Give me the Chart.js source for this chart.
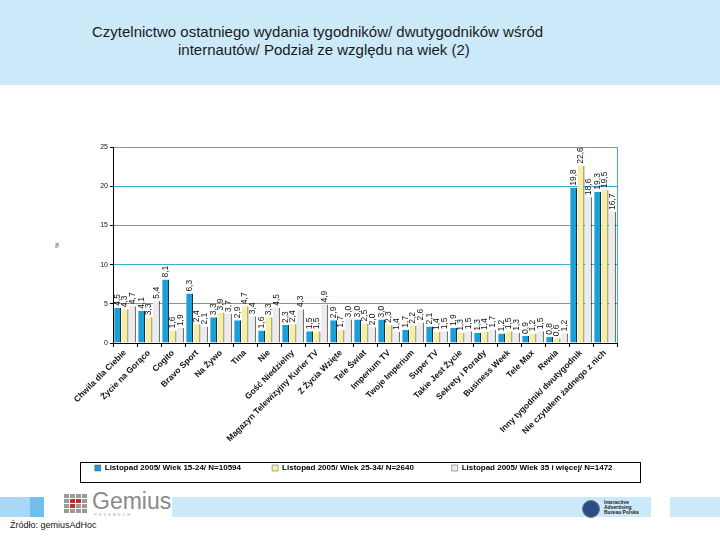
<!DOCTYPE html>
<html>
<head>
<meta charset="utf-8">
<script src="https://cdn.jsdelivr.net/npm/chart.js@4.4.1/dist/chart.umd.min.js"></script>
<style>
  html, body { margin:0; padding:0; background:#fff; }
  body { width:720px; height:540px; position:relative; overflow:hidden; font-family:"Liberation Sans", Arial, sans-serif; }
  #header { position:absolute; left:0; top:0; width:720px; height:85px; background:#cce9fa; }
  .t { position:absolute; font-size:15px; color:#1a1a1a; white-space:nowrap; }
  #chartWrap { position:absolute; left:0; top:0; width:720px; height:540px; }
  #footer1 { position:absolute; left:0; top:497px; width:30px; height:20px; background:#a9d8f6; }
  #footer2 { position:absolute; left:30px; top:497px; width:14px; height:20px; background:#72bfee; }
  #footer3 { position:absolute; left:172px; top:497px; width:479px; height:20px; background:#cce9fa; }
  #footer4 { position:absolute; left:670px; top:497px; width:50px; height:20px; background:#cce9fa; }
  #src { position:absolute; left:10px; top:520px; font-size:9px; color:#111; }
  #gem { position:absolute; left:64px; top:490px; width:110px; height:28px; }
  .sq { position:absolute; width:5px; height:4px; background:#9a9a9a; }
  #gemtxt { position:absolute; left:28px; top:-2px; font-size:23px; color:#8a8a8a; }
  #gemsub { position:absolute; left:30px; top:22px; font-size:4px; color:#aaa; letter-spacing:2px; }
  #iab { position:absolute; left:582px; top:498px; width:66px; height:20px; }
  #iabc { position:absolute; left:0; top:2px; width:16px; height:16px; border-radius:50%; background:#2b4d86; border:1px solid #777; }
  #iabt { position:absolute; left:22px; top:2px; font-size:5px; line-height:5px; color:#222; font-weight:bold; }
</style>
</head>
<body>
<div id="header"></div>
<div class="t" style="left:92px; top:23px;">Czytelnictwo ostatniego wydania tygodników/ dwutygodników wśród</div>
<div class="t" style="left:178px; top:41px;">internautów/ Podział ze względu na wiek (2)</div>
<div id="footer1"></div><div id="footer2"></div><div id="footer3"></div><div id="footer4"></div>
<div id="gem">
  <div class="sq" style="left:0;top:4px"></div><div class="sq" style="left:6px;top:4px"></div><div class="sq" style="left:12px;top:4px"></div><div class="sq" style="left:18px;top:4px"></div>
  <div class="sq" style="left:0;top:9px"></div><div class="sq" style="left:6px;top:9px;background:#c0302a"></div><div class="sq" style="left:12px;top:9px;background:#c0302a"></div><div class="sq" style="left:18px;top:9px"></div>
  <div class="sq" style="left:0;top:14px"></div><div class="sq" style="left:6px;top:14px;background:#c0302a"></div><div class="sq" style="left:12px;top:14px"></div><div class="sq" style="left:18px;top:14px"></div>
  <div class="sq" style="left:0;top:19px"></div><div class="sq" style="left:6px;top:19px"></div><div class="sq" style="left:12px;top:19px"></div><div class="sq" style="left:18px;top:19px"></div>
  <div id="gemtxt">Gemius</div>
  <div id="gemsub">RESEARCH</div>
</div>
<div id="iab"><div id="iabc"></div><div id="iabt">Interactive<br>Advertising<br>Bureau Polska</div></div>
<div id="src">Źródło: gemiusAdHoc</div>
<div id="chartWrap"><canvas id="c" width="720" height="540"></canvas></div>
<script>
const categories = [
  "Chwila dla Ciebie", "Życie na Gorąco", "Cogito", "Bravo Sport", "Na Żywo", "Tina", "Nie",
  "Gość Niedzielny", "Magazyn Telewizyjny Kurier TV", "Z Życia Wzięte", "Tele Świat", "Imperium TV",
  "Twoje Imperium", "Super TV", "Takie Jest Życie", "Sekrety i Porady", "Business Week", "Tele Max",
  "Rewia", "Inny tygodnik/ dwutygodnik", "Nie czytałem żadnego z nich"
];
const seriesNames = [
  "Listopad 2005/ Wiek 15-24/ N=10594",
  "Listopad 2005/ Wiek 25-34/ N=2640",
  "Listopad 2005/ Wiek 35 i więcej/ N=1472"
];
const age15_24 = [4.5, 4.1, 8.1, 6.3, 3.3, 2.9, 1.6, 2.3, 1.5, 2.9, 3.0, 3.0, 1.7, 2.1, 1.9, 1.3, 1.2, 0.9, 0.8, 19.8, 19.3];
const age25_34 = [4.3, 3.3, 1.6, 2.4, 3.9, 4.7, 3.3, 2.4, 1.5, 1.7, 2.5, 2.3, 2.2, 1.4, 1.3, 1.4, 1.5, 1.2, 0.6, 22.6, 19.5];
const age35plus = [4.7, 5.4, 1.9, 2.1, 3.7, 3.4, 4.5, 4.3, 4.9, 3.0, 2.0, 1.4, 2.6, 1.5, 1.5, 1.7, 1.3, 1.5, 1.2, 18.6, 16.7];
const yTicks = [0, 5, 10, 15, 20, 25];

const FONT = '"Liberation Sans", Arial, sans-serif';
const colors = ['#1b9fd4', '#f4efa2', '#ececec'];
const legendGapSpaces = [14, 17, 2];

const valueLabels = {
  id: 'valueLabels',
  afterDatasetsDraw(chart) {
    const ctx = chart.ctx;
    ctx.save();
    ctx.font = '8.5px ' + FONT;
    ctx.fillStyle = '#111';
    ctx.textAlign = 'left';
    ctx.textBaseline = 'middle';
    chart.data.datasets.forEach((ds, di) => {
      const meta = chart.getDatasetMeta(di);
      meta.data.forEach((bar, i) => {
        const v = ds.data[i];
        ctx.save();
        ctx.translate(bar.x, bar.y - 2);
        ctx.rotate(-Math.PI / 2);
        ctx.fillText(v.toFixed(1).replace('.', ','), 0, 0);
        ctx.restore();
      });
    });
    ctx.restore();
  }
};

const frame = {
  id: 'frame',
  afterDraw(chart) {
    const ctx = chart.ctx, a = chart.chartArea, lg = chart.legend;
    ctx.save();
    ctx.strokeStyle = '#3bb0d2';
    ctx.lineWidth = 1;
    ctx.beginPath();
    ctx.moveTo(a.right + 0.5, a.top);
    ctx.lineTo(a.right + 0.5, a.bottom);
    ctx.stroke();
    ctx.strokeStyle = '#000';
    ctx.lineWidth = 1;
    ctx.strokeRect(a.left - 33 + 0.5, lg.top - 1.5, (a.right + 23) - (a.left - 33), lg.height + 2);
    ctx.restore();
  }
};

new Chart(document.getElementById('c'), {
  type: 'bar',
  data: {
    labels: categories,
    datasets: [
      { label: seriesNames[0], data: age15_24, backgroundColor: colors[0], borderColor: '#1a1a1a', borderWidth: {left:0, right:1, top:0, bottom:0} },
      { label: seriesNames[1], data: age25_34, backgroundColor: colors[1], borderColor: '#1a1a1a', borderWidth: {left:0, right:1, top:0, bottom:0} },
      { label: seriesNames[2], data: age35plus, backgroundColor: colors[2], borderColor: '#1a1a1a', borderWidth: {left:0, right:1, top:0, bottom:0} }
    ]
  },
  options: {
    responsive: false,
    animation: false,
    events: [],
    layout: { padding: { left: 54, right: 103, top: 147, bottom: 58 } },
    datasets: { bar: { categoryPercentage: 0.92, barPercentage: 0.93 } },
    plugins: {
      tooltip: { enabled: false },
      legend: {
        position: 'bottom',
        align: 'end',
        labels: {
          boxWidth: 6, boxHeight: 6, padding: 0,
          color: '#111',
          font: { family: FONT, size: 8, weight: 'bold' },
          generateLabels(chart) {
            return chart.data.datasets.map((ds, i) => ({
              text: ds.label + ' '.repeat(legendGapSpaces[i]),
              fillStyle: ds.backgroundColor,
              strokeStyle: '#555',
              lineWidth: 0.5,
              datasetIndex: i,
              hidden: false
            }));
          }
        }
      }
    },
    scales: {
      x: {
        afterFit(s) { s.height = 121; },
        grid: { drawOnChartArea: false, drawTicks: true, tickLength: 4, color: '#000', offset: true },
        border: { color: '#000', width: 1 },
        ticks: {
          autoSkip: false, minRotation: 45, maxRotation: 45, padding: 1,
          color: '#111', font: { family: FONT, size: 8.5, weight: 'bold' }
        }
      },
      y: {
        min: 0, max: 25,
        afterFit(s) { s.width = 59; },
        afterBuildTicks(s) { s.ticks = yTicks.map(v => ({ value: v })); },
        title: { display: true, text: '%', font: { family: FONT, size: 6 }, color: '#333', padding: 0 },
        grid: { color: '#3bb0d2', lineWidth: 1, drawTicks: true, tickLength: 3, tickColor: '#000' },
        border: { color: '#000', width: 1 },
        ticks: { padding: 2, color: '#111', font: { family: FONT, size: 7 } }
      }
    }
  },
  plugins: [valueLabels, frame]
});
</script>
</body>
</html>
